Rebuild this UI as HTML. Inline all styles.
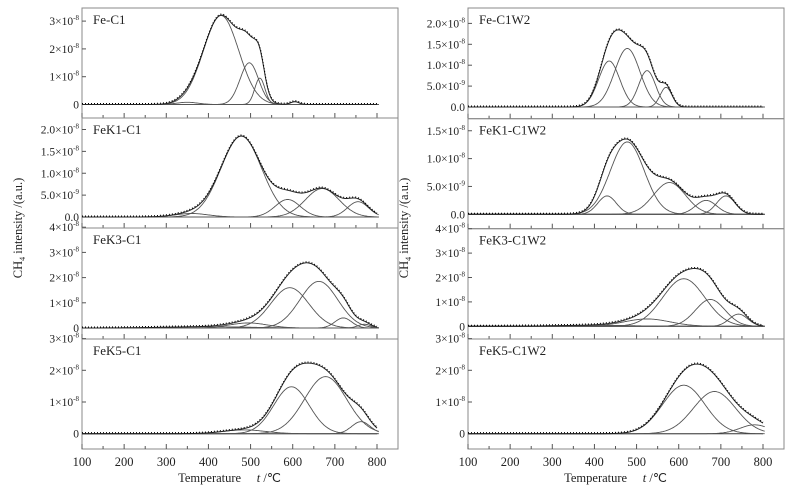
<!DOCTYPE html>
<html><head><meta charset="utf-8"><style>
body{margin:0;background:#fff;}
svg text{font-family:"Liberation Serif",serif;fill:#222;}
</style></head><body>
<svg id="c" width="795" height="486" viewBox="0 0 795 486" xmlns="http://www.w3.org/2000/svg"></svg>
<script>
// Gaussian component data: [amplitude (1e-8), center (°C), sigma (°C)]
const panelNames = ["Fe-C1","FeK1-C1","FeK3-C1","FeK5-C1","Fe-C1W2","FeK1-C1W2","FeK3-C1W2","FeK5-C1W2"];
const peaksFeC1 = [[0.08,350,25],[3.2,430,42],[1.5,497,22],[0.95,522,12],[0.1,605,10]];
const peaksFeK1C1 = [[0.08,360,40],[1.85,478,48],[0.4,588,30],[0.65,670,40],[0.35,755,25]];
const peaksFeK3C1 = [[0.05,400,100],[0.2,495,45],[1.6,593,45],[1.85,662,45],[0.4,720,20],[0.15,770,15]];
const peaksFeK5C1 = [[0.12,485,50],[1.48,597,42],[1.8,678,50],[0.38,762,22]];
const peaksFeC1W2 = [[1.1,435,25],[1.4,478,30],[0.87,525,20],[0.47,570,14]];
const peaksFeK1C1W2 = [[0.33,430,22],[1.3,478,40],[0.57,578,38],[0.25,665,25],[0.33,712,22]];
const peaksFeK3C1W2 = [[0.04,400,90],[0.3,525,55],[1.95,612,50],[1.1,675,35],[0.5,742,22]];
const peaksFeK5C1W2 = [[1.53,612,50],[1.33,685,50],[0.28,780,35]];
const xTicks = [100,200,300,400,500,600,700,800];
const yTicksL = [["0","1×10","2×10","3×10"],["0.0","5.0×10","1.0×10","1.5×10","2.0×10"],["0","1×10","2×10","3×10","4×10"],["0","1×10","2×10","3×10"]];
const yTickValsL = [[0,1,2,3],[0,0.5,1,1.5,2],[0,1,2,3,4],[0,1,2,3]];
const yTicksR = [["0.0","5.0×10","1.0×10","1.5×10","2.0×10"],["0.0","5.0×10","1.0×10","1.5×10"],["0","1×10","2×10","3×10","4×10"],["0","1×10","2×10","3×10"]];
const yTickValsR = [[0,0.5,1,1.5,2],[0,0.5,1,1.5],[0,1,2,3,4],[0,1,2,3]];

const NS="http://www.w3.org/2000/svg", svg=document.getElementById('c');
function mk(t,a,p){const e=document.createElementNS(NS,t);for(const k in a)e.setAttribute(k,a[k]);(p||svg).appendChild(e);return e;}
const allPeaks=[peaksFeC1,peaksFeK1C1,peaksFeK3C1,peaksFeK5C1,peaksFeC1W2,peaksFeK1C1W2,peaksFeK3C1W2,peaksFeK5C1W2];
const geomL=[[8,118,104.5,27.8],[118,228,217,43.75],[228,339,328,25.2],[339,449,433.7,31.7]];
const geomR=[[8,118.7,107,41.8],[118.7,228.7,214.3,55.7],[228.7,339,326.3,24.4],[339,449,433.7,31.7]];
const cols=[{fl:82,fr:398,x100:82},{fl:468,fr:784,x100:468}];
function g(p,t){return p[0]*Math.exp(-(t-p[1])*(t-p[1])/(2*p[2]*p[2]));}
for(let c=0;c<2;c++){
  const col=cols[c], xs=t=>col.x100+(t-100)*295/700;
  const G=c?geomR:geomL, yl=c?yTicksR:yTicksL, yv=c?yTickValsR:yTickValsL;
  const grp=mk('g',{});
  
  
  for(let i=0;i<4;i++){
    const [ft,fb,z,s]=G[i], ys=v=>z-v*s, pk=allPeaks[c*4+i];
    const pg=mk('g',{},grp);
    
    
    const fr=mk('rect',{x:col.fl,y:ft,width:col.fr-col.fl,height:fb-ft,fill:'none',stroke:'#888','stroke-width':1},pg);
    
    
    for(let t=100;t<=800;t+=50){const L=(t%100)?3:5;mk('line',{x1:xs(t),x2:xs(t),y1:fb,y2:fb-L,stroke:'#555','stroke-width':1},pg);}
    yv[i].forEach((v,k)=>{
      const y=ys(v);
      mk('line',{x1:col.fl,x2:col.fl+4,y1:y,y2:y,stroke:'#555'},pg);
      const tx=mk('text',{x:col.fl-3,y:y+4,'text-anchor':'end','font-size':11.5},pg);
      
      
      tx.textContent=yl[i][k];
      if(v!==0){const sp=mk('tspan',{dy:-5,'font-size':7},tx);sp.textContent=(yl[i][k].startsWith('5')?'-9':'-8');}
    });
    const lb=mk('text',{x:col.fl+11,y:ft+16,'font-size':13},pg);
    
    
    lb.textContent=panelNames[c*4+i];
    mk('line',{x1:xs(100),x2:xs(800),y1:z,y2:z,stroke:'#333','stroke-width':1},pg);
    pk.forEach(p=>{
      let d='';for(let t=100;t<=805;t+=2)d+=(t==100?'M':'L')+xs(t).toFixed(1)+','+ys(g(p,t)).toFixed(1);
      const e=mk('path',{d:d,fill:'none',stroke:'#555','stroke-width':0.9},pg);
      
      
    });
    let d='';for(let t=100;t<=800;t+=2){let v=0;pk.forEach(p=>v+=g(p,t));d+=(t==100?'M':'L')+xs(t).toFixed(1)+','+ys(v).toFixed(1);}
    const sm=mk('path',{d:d,fill:'none',stroke:'#222','stroke-width':1},pg);
    
    
    const dt=mk('path',{d:d,fill:'none',stroke:'#000','stroke-width':1.1,'stroke-dasharray':'1 2',transform:'translate(0,-1)'},pg);
    
    
  }
  xTicks.forEach(t=>{const e=mk('text',{x:xs(t),y:466,'text-anchor':'middle','font-size':12.5},grp);
    
    
    e.textContent=t;});
  const xt=mk('text',{x:xs(450),y:482,'text-anchor':'middle','font-size':12.5},grp);
  
  
  xt.innerHTML='Temperature &#160;&#160;&#160; <tspan font-style="italic">t</tspan> /℃';
  const yt=mk('text',{transform:'translate('+(col.fl-60)+',228) rotate(-90)','text-anchor':'middle','font-size':12.5},grp);
  
  
  yt.innerHTML='CH<tspan dy="3" font-size="8">4</tspan><tspan dy="-3"> intensity /(a.u.)</tspan>';
}
</script>
</body></html>
